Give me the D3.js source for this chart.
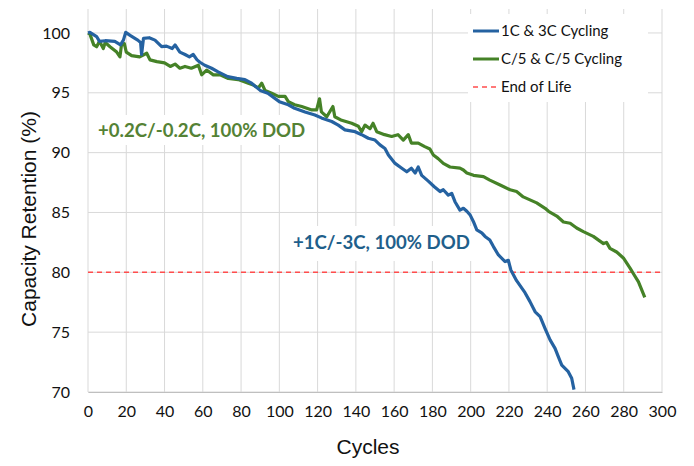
<!DOCTYPE html>
<html>
<head>
<meta charset="utf-8">
<script src="https://cdn.jsdelivr.net/npm/d3@7"></script>
<style>
  body { margin: 0; background: #fff; }
  svg { display: block; }
</style>
</head>
<body>
<svg id="chart" width="694" height="466"></svg>
<script>
// values
let blueCycles = [0, 1, 4.5, 6, 9, 14, 17, 18.5, 19.7, 22, 24.5, 26, 27.5, 28, 29, 32, 35, 38.5, 41, 44,
  45.5, 48, 50.7, 53, 55, 57, 58.5, 61, 64.6, 68, 73, 77.7, 82, 85.5, 90, 94, 100, 104.7, 108, 113.4,
  118.6, 122, 127.4, 130.8, 134.3, 139.6, 143, 146.5, 150, 152.6, 155.2, 157, 160.5, 164, 166.6, 169,
  171, 172.6, 174.4, 178, 181, 184, 185.7, 188.3, 190.1, 191.8, 194.4, 196.2, 198, 199.7, 201.4, 203.2,
  205.8, 207.5, 210, 211.9, 214.5, 218, 219.7, 221, 224, 228.4, 231, 233.7, 236.3, 238.9, 241.5, 244.1,
  245.8, 247.6, 251, 252.8, 254];
let blueValues = [100.0, 100.05, 99.7, 99.3, 99.35, 99.3, 99.0, 99.4, 100.05, 99.8, 99.55, 99.4, 99.2, 98.2, 99.55, 99.6, 99.4, 98.85, 98.9, 98.7,
  99.0, 98.4, 98.2, 98.0, 98.2, 97.75, 97.55, 97.3, 97.05, 96.75, 96.35, 96.2, 96.1, 95.8, 95.2, 94.96, 94.26, 94.0, 93.7, 93.4,
  93.15, 92.9, 92.6, 92.3, 91.9, 91.75, 91.5, 91.2, 91.05, 90.65, 90.35, 89.8, 89.1, 88.7, 88.4, 88.7,
  88.3, 88.8, 88.1, 87.6, 87.15, 86.75, 86.9, 86.45, 86.6, 85.9, 85.2, 85.35, 85.1, 84.8, 84.25, 83.55,
  83.3, 83.0, 82.7, 82.15, 81.45, 80.9, 81.0, 80.2, 79.3, 78.3, 77.55, 76.7, 76.3, 75.3, 74.35, 73.65,
  72.95, 72.25, 71.7, 71.15, 70.2];

let greenCycles = [0, 1, 3, 4.5, 6, 8, 9, 11.5, 15, 16.7, 17.5, 19, 20, 22.8, 27, 30.7, 32.4, 36, 40, 43,
  45.5, 48, 50.7, 54, 57.7, 59.4, 62, 65.5, 69, 73.3, 78.5, 83.8, 86.4, 89, 90.8, 92.5, 96, 99.5, 103, 104.7,
  108, 111.7, 117, 119.5, 121, 122, 124.8, 128, 129, 132.6, 137.8, 141.3, 143, 144.8, 147.4, 149, 150.9,
  155, 158.7, 162, 164.8, 167.4, 169, 172.6, 176, 178.7, 180.5, 183, 185.7, 189.2, 194.4, 196.2, 198,
  201.5, 206.7, 210, 215.4, 220.6, 224, 227.5, 231, 234.5, 238.9, 240.7, 245, 248.5, 252, 255.4, 258.9,
  264.1, 269.4, 271, 272.8, 276.3, 279.8, 283.3, 285, 287.7, 291];
let greenValues = [100.0, 99.9, 99.0, 98.85, 99.3, 98.7, 99.2, 98.85, 98.4, 98.0, 99.0, 99.1, 98.4, 98.1, 98.0, 98.3, 97.75, 97.6, 97.5, 97.2,
  97.4, 97.05, 97.2, 97.05, 97.3, 96.5, 96.9, 96.5, 96.5, 96.2, 96.1, 95.8, 95.65, 95.4, 95.8, 95.2, 94.96, 94.7, 94.7, 94.26,
  94.0, 93.85, 93.57, 93.57, 94.5, 93.4, 93.0, 93.85, 93.0, 92.7, 92.45, 92.2, 91.75, 92.3, 92.0, 92.45, 91.75,
  91.5, 91.35, 91.5, 91.05, 91.5, 90.8, 90.8, 90.5, 90.3, 89.8, 89.5, 89.1, 88.8, 88.7, 88.55, 88.3,
  88.1, 88.0, 87.7, 87.3, 86.9, 86.75, 86.3, 86.05, 85.8, 85.35, 85.1, 84.7, 84.2, 84.1, 83.7, 83.4,
  83.0, 82.4, 82.5, 82.0, 81.7, 81.2, 80.35, 79.9, 79.2, 77.9];

let endOfLife = 80;
let xTicks = d3.range(0, 301, 20);
let yTicks = [70, 75, 80, 85, 90, 95, 100];
let seriesNames = ['1C & 3C Cycling', 'C/5 & C/5 Cycling', 'End of Life'];

let BLUE = '#2562a1';
let GREEN = '#458227';
let RED = '#ff4d4d';
let GRID = '#d9d9d9';

let svg = d3.select('#chart');

// scales
let xScale = d3.scaleLinear().domain([0, 300]).range([88, 662]);
let yScale = d3.scaleLinear().domain([70, 102]).range([392, 9]);

// gridlines
svg.append('g')
  .selectAll('line')
  .data(xTicks)
  .join('line')
  .attr('x1', d => xScale(d)).attr('x2', d => xScale(d))
  .attr('y1', yScale(102)).attr('y2', yScale(70))
  .attr('stroke', GRID).attr('stroke-width', 1);

svg.append('g')
  .selectAll('line')
  .data(yTicks)
  .join('line')
  .attr('x1', xScale(0)).attr('x2', xScale(300))
  .attr('y1', d => yScale(d)).attr('y2', d => yScale(d))
  .attr('stroke', GRID).attr('stroke-width', 1);

// axes (labels only, Excel style)
let xAxis = svg.append('g')
  .attr('transform', `translate(0,${yScale(70)})`)
  .call(d3.axisBottom(xScale).tickValues(xTicks).tickSize(0).tickPadding(14));
xAxis.select('.domain').attr('stroke', '#bfbfbf');

let yAxis = svg.append('g')
  .attr('transform', `translate(${xScale(0)},0)`)
  .call(d3.axisLeft(yScale).tickValues(yTicks).tickSize(0).tickPadding(18));
yAxis.select('.domain').remove();

svg.selectAll('.tick text')
  .attr('font-family', 'Lato, "Open Sans", sans-serif')
  .attr('font-size', 16)
  .attr('fill', '#111');

// axis titles
svg.append('text')
  .attr('x', 368).attr('y', 454)
  .attr('text-anchor', 'middle')
  .attr('font-family', '"Liberation Sans", Arial, sans-serif')
  .attr('font-size', 21)
  .attr('fill', '#111')
  .text('Cycles');

svg.append('text')
  .attr('transform', 'translate(36,219) rotate(-90)')
  .attr('text-anchor', 'middle')
  .attr('font-family', '"Liberation Sans", Arial, sans-serif')
  .attr('font-size', 21)
  .attr('fill', '#111')
  .text('Capacity Retention (%)');

// annotation boxes
let greenNote = svg.append('g');
greenNote.append('rect')
  .attr('x', 92).attr('y', 115).attr('width', 222).attr('height', 30)
  .attr('fill', '#fff');
greenNote.append('text')
  .attr('x', 98).attr('y', 137)
  .attr('font-family', 'Lato, "Open Sans", sans-serif')
  .attr('font-weight', 'bold')
  .attr('font-size', 18.6)
  .attr('fill', '#548235')
  .text('+0.2C/-0.2C, 100% DOD');

let blueNote = svg.append('g');
blueNote.append('rect')
  .attr('x', 280).attr('y', 226).attr('width', 200).attr('height', 35)
  .attr('fill', '#fff');
blueNote.append('text')
  .attr('x', 293).attr('y', 249)
  .attr('font-family', 'Lato, "Open Sans", sans-serif')
  .attr('font-weight', 'bold')
  .attr('font-size', 18.6)
  .attr('fill', '#1f5f8b')
  .text('+1C/-3C, 100% DOD');

// end of life line
svg.append('line')
  .attr('x1', xScale(0)).attr('x2', xScale(300))
  .attr('y1', yScale(endOfLife)).attr('y2', yScale(endOfLife))
  .attr('stroke', RED).attr('stroke-width', 1.6)
  .attr('stroke-dasharray', '5,4');

// series lines
let line = d3.line()
  .x(d => xScale(d[0]))
  .y(d => yScale(d[1]));

let greenData = greenCycles.map((c, i) => [c, greenValues[i]]);
let blueData = blueCycles.map((c, i) => [c, blueValues[i]]);

svg.append('path')
  .datum(greenData)
  .attr('d', line)
  .attr('fill', 'none')
  .attr('stroke', GREEN)
  .attr('stroke-width', 3.2)
  .attr('stroke-linejoin', 'round');

svg.append('path')
  .datum(blueData)
  .attr('d', line)
  .attr('fill', 'none')
  .attr('stroke', BLUE)
  .attr('stroke-width', 3.2)
  .attr('stroke-linejoin', 'round');

// legend
let legend = svg.append('g');
legend.append('rect')
  .attr('x', 468).attr('y', 14).attr('width', 180).attr('height', 88)
  .attr('fill', '#fff');

let legendColors = [BLUE, GREEN, RED];
let legendRows = legend.selectAll('g.row')
  .data(seriesNames)
  .join('g')
  .attr('class', 'row')
  .attr('transform', (d, i) => `translate(473,${31 + i * 28})`);

legendRows.append('line')
  .attr('x1', 0).attr('x2', 26)
  .attr('stroke', (d, i) => legendColors[i])
  .attr('stroke-width', (d, i) => i == 2 ? 1.6 : 3)
  .attr('stroke-dasharray', (d, i) => i == 2 ? '5,4' : null);

legendRows.append('text')
  .attr('x', 28).attr('y', 5)
  .attr('font-family', 'Lato, "Open Sans", sans-serif')
  .attr('font-size', 15)
  .attr('fill', '#111')
  .text(d => d);
</script>
</body>
</html>
